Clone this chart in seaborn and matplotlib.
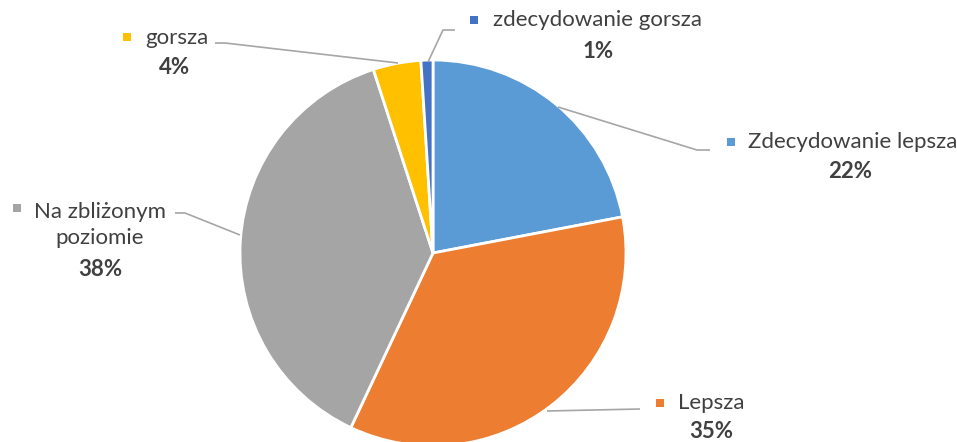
import matplotlib
matplotlib.use("Agg")
import matplotlib.pyplot as plt
import seaborn as sns

# dane
categories = ["Zdecydowanie lepsza", "Lepsza", "Na zbliżonym\npoziomie", "gorsza", "zdecydowanie gorsza"]
values = [22, 35, 38, 4, 1]
colors = ["#5B9BD5", "#ED7D31", "#A5A5A5", "#FFC000", "#4472C4"]

sns.set_theme(style="white")
plt.rcParams['font.family'] = ['Lato', 'DejaVu Sans']

W, H = 957, 442
fig = plt.figure(figsize=(W / 100, H / 100), dpi=100)
ax = fig.add_axes([0, 0, 1, 1])

ax.pie(values, colors=colors, startangle=90, counterclock=False,
       center=(433, H - 253), radius=193, frame=True,
       wedgeprops=dict(edgecolor="white", linewidth=2))
ax.set_xlim(0, W)
ax.set_ylim(0, H)
ax.set_aspect("equal")
ax.axis("off")

txt = "#404040"
line = "#A6A6A6"

# pozycje etykiet (piksele, y od góry)
layout = [
    dict(sq=(731, 142), name_x=748, name_y=142, ha="left", pct=(850, 172),
         lead=[(558, 107), (697, 150), (710, 150)]),
    dict(sq=(660, 403), name_x=678, name_y=403, ha="left", pct=(711, 432),
         lead=[(547, 411), (640, 409)]),
    dict(sq=(17, 208), name_x=100, name_y=225, ha="center", pct=(100, 270),
         lead=[(175, 213), (185, 213), (240, 235)]),
    dict(sq=(127, 37), name_x=145, name_y=38, ha="left", pct=(175, 68),
         lead=[(215, 43), (225, 43), (398, 63)]),
    dict(sq=(474, 20), name_x=493, name_y=20, ha="left", pct=(598, 52),
         lead=[(428, 62), (443, 30), (455, 30)]),
]

for cat, val, col, lay in zip(categories, values, colors, layout):
    xs = [p[0] for p in lay["lead"]]
    ys = [H - p[1] for p in lay["lead"]]
    ax.plot(xs, ys, color=line, lw=1.2, solid_capstyle="butt")
    ax.plot(lay["sq"][0], H - lay["sq"][1], marker="s", ms=6, color=col, mew=0)
    ax.text(lay["name_x"], H - lay["name_y"], cat, ha=lay["ha"], va="center",
            fontsize=16, color=txt, linespacing=1.4)
    ax.text(lay["pct"][0], H - lay["pct"][1], f"{val}%", ha="center", va="center",
            fontsize=16, fontweight="bold", color=txt)

fig.savefig("out.png", dpi=100)
